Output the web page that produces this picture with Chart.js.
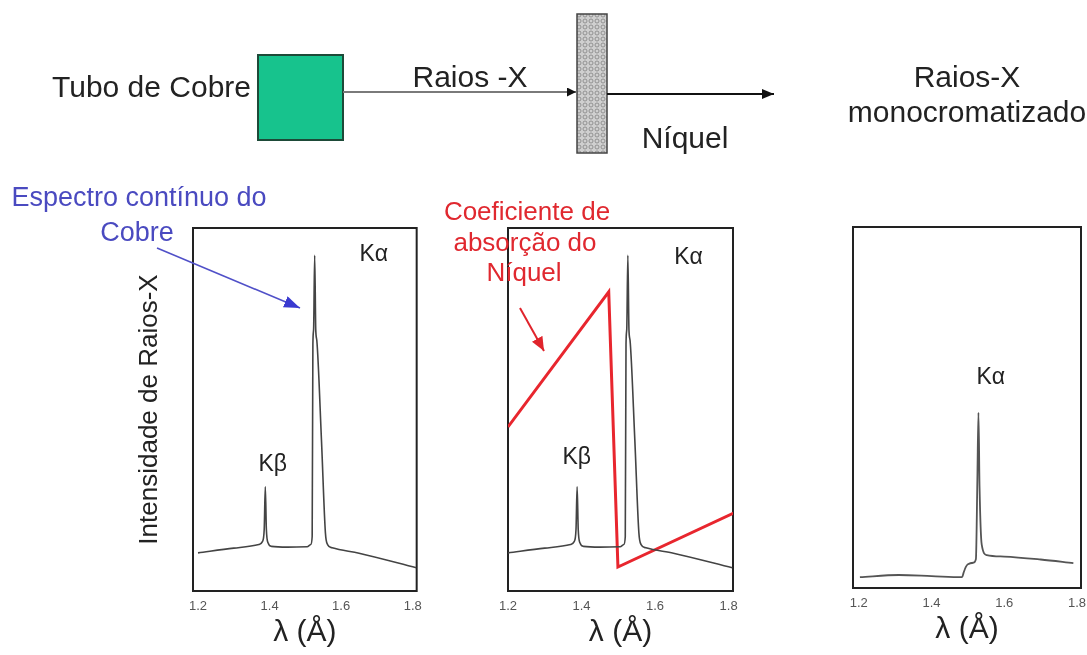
<!DOCTYPE html>
<html><head><meta charset="utf-8">
<script src="https://cdn.jsdelivr.net/npm/chart.js@4"></script>
<style>
html,body{margin:0;padding:0;background:#fff;width:1087px;height:655px;overflow:hidden;font-family:"Liberation Sans",Arial,sans-serif}
.panel{position:absolute}
#diagram{position:absolute;left:0;top:0;z-index:5;pointer-events:none}
</style></head><body>
<div class="panel" style="left:110px;top:215px;width:320px;height:440px"><canvas id="c1"></canvas></div>
<div class="panel" style="left:490px;top:215px;width:260px;height:440px"><canvas id="c2"></canvas></div>
<div class="panel" style="left:835px;top:212px;width:265px;height:440px"><canvas id="c3"></canvas></div>
<svg id="diagram" width="1087" height="655" font-family="Liberation Sans, Arial, sans-serif">
  <defs>
    <pattern id="grain" width="6" height="6" patternUnits="userSpaceOnUse">
      <rect width="6" height="6" fill="#cfcfcf"/>
      <circle cx="3" cy="3" r="2" fill="none" stroke="#8a8a8a" stroke-width="0.9"/>
    </pattern>
    <marker id="headBlack" markerWidth="12" markerHeight="10" refX="12" refY="5" orient="auto" markerUnits="userSpaceOnUse">
      <path d="M0,0 L12,5 L0,10 z" fill="#111"/>
    </marker>
    <marker id="headSmall" markerWidth="9" markerHeight="9" refX="9" refY="4.5" orient="auto" markerUnits="userSpaceOnUse">
      <path d="M0,0 L9,4.5 L0,9 z" fill="#111"/>
    </marker>
    <marker id="headBlue" markerWidth="16" markerHeight="12" refX="16" refY="6" orient="auto" markerUnits="userSpaceOnUse">
      <path d="M0,0 L16,6 L0,12 z" fill="#3a3ad0"/>
    </marker>
    <marker id="headRed" markerWidth="14" markerHeight="12" refX="14" refY="6" orient="auto" markerUnits="userSpaceOnUse">
      <path d="M0,0 L14,6 L0,12 z" fill="#e0242c"/>
    </marker>
  </defs>
  <!-- top diagram -->
  <text x="251" y="86" text-anchor="end" dominant-baseline="central" font-size="30" fill="#222">Tubo de Cobre</text>
  <rect x="258" y="55" width="85" height="85" fill="#17c38d" stroke="#1d4a38" stroke-width="2"/>
  <line x1="343" y1="92" x2="576" y2="92" stroke="#7a7a7a" stroke-width="2" marker-end="url(#headSmall)"/>
  <text x="470" y="76" text-anchor="middle" dominant-baseline="central" font-size="30" fill="#222">Raios -X</text>
  <rect x="577" y="14" width="30" height="139" fill="url(#grain)" stroke="#444" stroke-width="1.5"/>
  <line x1="607" y1="94" x2="774" y2="94" stroke="#111" stroke-width="2" marker-end="url(#headBlack)"/>
  <text x="685" y="137" text-anchor="middle" dominant-baseline="central" font-size="30" fill="#222">Níquel</text>
  <text x="967" y="76" text-anchor="middle" dominant-baseline="central" font-size="30" fill="#222">Raios-X</text>
  <text x="967" y="111" text-anchor="middle" dominant-baseline="central" font-size="30" fill="#222">monocromatizado</text>
  <!-- blue annotation -->
  <text x="139" y="197" text-anchor="middle" dominant-baseline="central" font-size="27" fill="#4a4ac0">Espectro contínuo do</text>
  <text x="137" y="232" text-anchor="middle" dominant-baseline="central" font-size="27" fill="#4a4ac0">Cobre</text>
  <line x1="157" y1="248" x2="300" y2="308" stroke="#5050c8" stroke-width="1.6" marker-end="url(#headBlue)"/>
  <!-- red annotation -->
  <text x="527" y="211" text-anchor="middle" dominant-baseline="central" font-size="26" fill="#e0282f">Coeficiente de</text>
  <text x="525" y="242" text-anchor="middle" dominant-baseline="central" font-size="26" fill="#e0282f">absorção do</text>
  <text x="524" y="272" text-anchor="middle" dominant-baseline="central" font-size="26" fill="#e0282f">Níquel</text>
  <line x1="520" y1="308" x2="544" y2="351" stroke="#e0242c" stroke-width="2" marker-end="url(#headRed)"/>
</svg>
<script>
// ---- data ----
const tickValues = [1.2, 1.4, 1.6, 1.8];
const tickLabels = ['1.2', '1.4', '1.6', '1.8'];

// Copper tube spectrum (continuous + Kβ + Kα)
const cuWavelength = [1.200, 1.300, 1.370, 1.380, 1.385, 1.388, 1.391, 1.396, 1.405, 1.450, 1.505, 1.515, 1.519, 1.521, 1.523, 1.526, 1.529, 1.532, 1.545, 1.556, 1.562, 1.575, 1.650, 1.810];
const cuIntensity  = [10.5, 11.8, 12.8, 13.6, 17.0, 28.7, 17.0, 13.2, 12.3, 12.1, 12.2, 12.8, 15.0, 68.0, 72.0, 92.5, 72.0, 69.0, 41.5, 16.0, 12.8, 11.9, 10.4, 6.4];

// Nickel absorption coefficient (with K edge)
const niWavelength = [1.200, 1.474, 1.499, 1.815];
const niAbsorption = [45.2, 82.4, 6.6, 21.5];

// Filtered (monochromatized) spectrum
const monoWavelength = [1.203, 1.310, 1.400, 1.484, 1.488, 1.494, 1.500, 1.515, 1.522, 1.526, 1.529, 1.532, 1.538, 1.552, 1.600, 1.700, 1.790];
const monoIntensity  = [3.0, 3.6, 3.3, 3.0, 4.2, 5.8, 6.6, 7.0, 8.0, 30.0, 48.6, 28.0, 12.0, 9.1, 8.7, 7.9, 6.9];

// ---- helpers ----
const pts = (xs, ys) => xs.map((x, i) => ({x, y: ys[i]}));

const framePlugin = {
  id: 'frame',
  beforeDatasetsDraw(chart) {
    const {ctx, chartArea: a} = chart;
    ctx.save();
    ctx.strokeStyle = '#222';
    ctx.lineWidth = 2;
    ctx.strokeRect(a.left, a.top, a.right - a.left, a.bottom - a.top);
    ctx.restore();
  }
};
const labelPlugin = {
  id: 'peakLabels',
  afterDatasetsDraw(chart, args, opts) {
    const {ctx} = chart;
    const xs = chart.scales.x, ys = chart.scales.y;
    ctx.save();
    ctx.font = '23px "Liberation Sans", Arial, sans-serif';
    ctx.fillStyle = '#222';
    ctx.textAlign = 'center';
    ctx.textBaseline = 'middle';
    (opts.items || []).forEach(it => {
      ctx.fillText(it.text, xs.getPixelForValue(it.x), ys.getPixelForValue(it.y));
    });
    ctx.restore();
  }
};

Chart.defaults.font.family = '"Liberation Sans", Arial, sans-serif';

function makeChart(id, cfg) {
  const yScale = cfg.yTitle ? {
    min: 0, max: 100, display: true,
    grid: {display: false, drawTicks: false}, border: {display: false},
    ticks: {display: false},
    title: {display: true, text: cfg.yTitle, font: {size: 26}, color: '#222', padding: {top: 24, bottom: 0}},
    afterFit: s => { s.width = 83; }
  } : {min: 0, max: 100, display: false};
  return new Chart(document.getElementById(id), {
    type: 'line',
    data: {datasets: cfg.datasets},
    options: {
      responsive: true, maintainAspectRatio: false, animation: false,
      layout: {padding: cfg.padding},
      elements: {point: {radius: 0}, line: {tension: 0}},
      plugins: {legend: {display: false}, tooltip: {enabled: false}, peakLabels: {items: cfg.labels}},
      scales: {
        x: {
          type: 'linear', min: cfg.xmin, max: cfg.xmax,
          grid: {display: false, drawTicks: false}, border: {display: false},
          ticks: {font: {size: 13}, color: '#555', padding: 8, callback: (v, i) => tickLabels[i]},
          afterBuildTicks: s => { s.ticks = tickValues.map(v => ({value: v})); },
          afterFit: s => { s.height = 64; },
          title: {display: true, text: 'λ (Å)', font: {size: 30}, color: '#222', padding: {top: 0, bottom: 4}}
        },
        y: yScale
      }
    },
    plugins: [framePlugin, labelPlugin]
  });
}

const cuStyle = {borderColor: '#444', borderWidth: 1.6, cubicInterpolationMode: 'monotone'};

makeChart('c1', {
  xmin: 1.186, xmax: 1.811,
  padding: {top: 13, right: 13, left: 0, bottom: 0},
  yTitle: 'Intensidade de Raios-X',
  datasets: [Object.assign({data: pts(cuWavelength, cuIntensity)}, cuStyle)],
  labels: [{text: 'Kα', x: 1.691, y: 92.6}, {text: 'Kβ', x: 1.409, y: 34.7}]
});

makeChart('c2', {
  xmin: 1.2, xmax: 1.812,
  padding: {top: 13, right: 17, left: 18, bottom: 0},
  datasets: [
    Object.assign({data: pts(cuWavelength, cuIntensity)}, cuStyle),
    {data: pts(niWavelength, niAbsorption), borderColor: '#e8262e', borderWidth: 3}
  ],
  labels: [{text: 'Kα', x: 1.691, y: 91.7}, {text: 'Kβ', x: 1.387, y: 36.6}]
});

makeChart('c3', {
  xmin: 1.184, xmax: 1.811,
  padding: {top: 15, right: 19, left: 18, bottom: 0},
  datasets: [{data: pts(monoWavelength, monoIntensity), borderColor: '#555', borderWidth: 1.8, cubicInterpolationMode: 'monotone'}],
  labels: [{text: 'Kα', x: 1.563, y: 58.2}]
});
</script>
</body></html>
